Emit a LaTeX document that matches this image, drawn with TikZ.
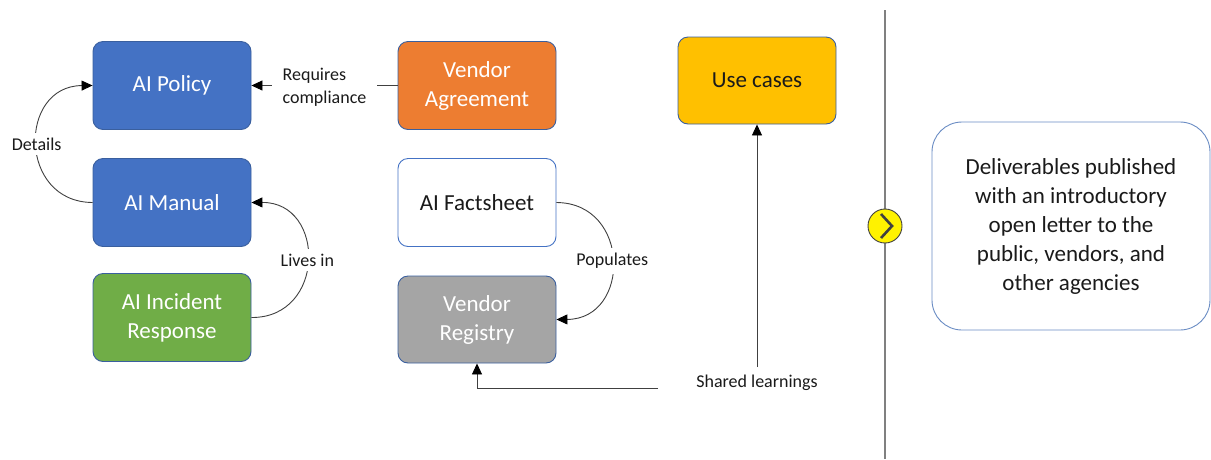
\documentclass[tikz,border=0pt]{standalone}
\usepackage{fontspec}
\setmainfont{Carlito}
\usetikzlibrary{arrows.meta,calc}
\definecolor{cblue}{HTML}{4472C4}
\definecolor{corange}{HTML}{ED7D31}
\definecolor{cgreen}{HTML}{70AD47}
\definecolor{cgray}{HTML}{A5A5A5}
\definecolor{cyellow}{HTML}{FFC000}
\definecolor{cborder}{HTML}{3A5F9E}
\definecolor{cline}{HTML}{404040}
\definecolor{cdiv}{HTML}{808080}
\definecolor{cdel}{HTML}{6A8CC4}
\definecolor{ctext}{HTML}{1A1A1A}
\begin{document}
\begin{tikzpicture}[x=1pt,y=-1pt,
  box/.style={draw=cborder, line width=0.9pt, rounded corners=10pt, minimum width=158pt, minimum height=88pt, align=center, font=\fontsize{23}{29}\selectfont, inner sep=0pt, execute at begin node={\vspace*{4pt}}},
  lbl/.style={font=\fontsize{18}{22.5}\selectfont, fill=white, inner xsep=6pt, inner ysep=5pt, align=left, text=ctext},
  conn/.style={draw=cline, line width=0.9pt, -{Triangle[length=11pt,width=10pt,color=black]}}]
\useasboundingbox (0,0) rectangle (1211,459);
% divider
\draw[cdiv, line width=1.6pt] (885,10) -- (885,459);
% boxes
\node[box, fill=cblue, text=white] (pol) at (172,85.5) {AI Policy};
\node[box, fill=cblue, text=white] (man) at (172,202.5) {AI Manual};
\node[box, fill=cgreen, text=white] (inc) at (172,317.5) {AI Incident\\Response};
\node[box, fill=corange, text=white] (va) at (477,85.5) {Vendor\\Agreement};
\node[box, fill=white, draw=cblue, text=ctext] (fs) at (477,202.5) {AI Factsheet};
\node[box, fill=cgray, text=white, minimum height=87pt] (vr) at (477,319.5) {Vendor\\Registry};
\node[box, fill=cyellow, text=ctext, minimum height=87pt] (uc) at (757,80.5) {Use cases};
\node[box, fill=white, draw=cdel, text=ctext, minimum width=278pt, minimum height=208pt, rounded corners=30pt] (del) at (1071,226) {Deliverables published\\with an introductory\\open letter to the\\public, vendors, and\\other agencies};
% connectors
\draw[conn] (va.west) -- node[lbl, inner xsep=11pt, yshift=-2pt]{Requires\\compliance} (pol.east);
\draw[conn] (man.west) .. controls (18,202) and (18,86) .. node[lbl]{Details} (pol.west);
\draw[conn] (inc.east) .. controls (326,318) and (326,202) .. node[lbl]{Lives in} (man.east);
\draw[conn] (fs.east) .. controls (631,203) and (631,319) .. node[lbl]{Populates} (vr.east);
\node[lbl, inner sep=2pt] (sl) at (757,383) {Shared learnings};
\draw[conn] ([yshift=6pt]sl.north) -- (uc.south);
\coordinate (slend) at (658,388);
\draw[conn] (slend) -| (vr.south);
% milestone marker
\node[circle, draw=cline, line width=0.9pt, fill=yellow, minimum size=34pt, inner sep=0pt] (circ) at (885,226) {};
\draw[cline, line width=2.6pt] ($(circ.center)+(-4,-12)$) -- ($(circ.center)+(7,0)$) -- ($(circ.center)+(-4,12)$);
\end{tikzpicture}
\end{document}
